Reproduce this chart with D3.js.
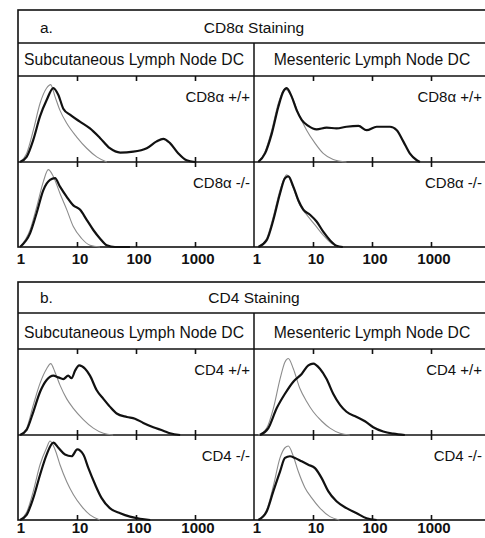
<!DOCTYPE html>
<html lang="en">
<head>
<meta charset="UTF-8">
<script src="https://d3js.org/d3.v7.min.js"></script>
<title>CD8α / CD4 staining</title>
<style>
  body { margin: 0; background: #fff; }
  svg text { font-family: "Liberation Sans", Arial, sans-serif; fill: #111; }
</style>
</head>
<body>
<svg id="chart" width="485" height="538"></svg>
<script>
// histogram data: [fluorescence, relative count]
// a. CD8α staining
const cd8SubWT = [[1.08,0],[1.4,6],[1.82,26],[2.36,53],[3.06,72],[3.97,86],[4.83,78],[5.86,62],[7.6,55],[11.2,47],[16.6,39],[24.5,28],[36,16],[54,11],[90,12],[152,16],[224,24],[290,27],[377,22],[522,10],[722,2],[1000,0]];
const cd8SubWTctl = [[1.08,0],[1.4,10],[1.82,37],[2.36,68],[3.06,86],[3.58,90],[4.24,76],[5.15,60],[6.7,45],[9.9,29],[14.6,16],[21.6,6],[32,0]];
const cd8SubKO = [[1.08,0],[1.6,16],[2.07,40],[2.69,67],[3.49,79],[4.24,81],[5.15,71],[6.7,59],[8.66,49],[11.2,44],[14.6,32],[18.9,20],[24.5,10],[32,2],[44,0],[79,0]];
const cd8SubKOctl = [[1.08,0],[1.6,20],[2.07,47],[2.69,77],[3.26,91],[3.97,83],[5.15,63],[6.7,44],[8.66,24],[12,10],[16.6,2],[24.5,0]];
const cd8MesWT = [[1.18,0],[1.54,10],[2.0,33],[2.58,64],[3.14,82],[3.58,86],[4.35,76],[5.3,60],[6.43,49],[8.33,42],[11.5,38],[17,40],[25,39],[37,41],[59,42],[81,37],[120,41],[202,41],[263,37],[339,24],[437,10],[575,2],[650,0]];
const cd8MesWTctl = [[1.18,0],[1.54,12],[2.0,37],[2.58,68],[3.35,85],[4.35,76],[5.64,57],[7.8,37],[10.8,22],[14.9,10],[22,3],[37,0]];
const cd8MesKO = [[1.18,0],[1.64,8],[2.13,32],[2.76,63],[3.35,81],[3.82,83],[4.64,71],[5.64,55],[6.85,44],[8.9,38],[11.5,30],[14.9,18],[19.4,8],[25,1.5],[32,0]];
const cd8MesKOctl = [[1.18,0],[1.64,10],[2.13,36],[2.76,67],[3.58,85],[4.64,69],[6.0,49],[7.8,38],[10.8,26],[14.9,14],[20.8,4],[28,0]];

// b. CD4 staining
const cd4SubWT = [[1.08,0],[1.4,6],[1.82,27],[2.36,50],[3.06,64],[3.97,69],[4.83,67],[5.86,65],[7.1,69],[8.1,66],[9.3,75],[10.9,81],[13.7,77],[16.6,69],[21.6,52],[28,42],[36,33],[47,25],[70,21],[96,19],[133,14],[196,9],[290,5],[377,2],[560,0]];
const cd4SubWTctl = [[1.08,0],[1.4,8],[1.82,35],[2.36,60],[3.06,77],[3.58,83],[4.24,73],[5.15,58],[6.7,42],[8.66,31],[12.8,18],[18.9,8],[28,2],[41,0]];
const cd4SubKO = [[1.08,0],[1.4,6],[1.82,26],[2.36,53],[3.06,77],[3.97,91],[4.83,85],[6.26,77],[8.1,75],[10.1,83],[12.8,77],[15.6,61],[20.2,42],[26,26],[36,14],[54,8],[79,4],[117,1.5],[174,0]];
const cd4SubKOctl = [[1.08,0],[1.4,9],[1.82,34],[2.36,65],[3.06,85],[3.49,93],[4.24,83],[5.15,65],[6.7,45],[8.66,30],[12,16],[16.6,6],[24.5,0]];
const cd4MesWT = [[1.26,0],[1.75,8],[2.42,31],[3.35,48],[4.64,62],[6.43,71],[8.34,81],[10.1,83],[13.1,77],[17,65],[22,48],[28.7,35],[37,27],[55,21],[76,16],[105,9],[155,4],[230,1.5],[360,0]];
const cd4MesWTctl = [[1.18,0],[1.64,8],[2.13,31],[2.76,65],[3.35,85],[3.82,89],[4.64,77],[6.0,54],[7.8,39],[10.1,27],[14.1,16],[19.4,8],[28.7,2],[42,0]];
const cd4MesKO = [[1.18,0],[1.64,10],[2.13,34],[2.76,57],[3.35,73],[4.07,75],[4.95,73],[6.43,69],[8.34,65],[10.8,61],[14.1,49],[18.1,34],[25,22],[37,14],[55,8],[81,2],[120,0]];
const cd4MesKOctl = [[1.18,0],[1.64,12],[2.13,40],[2.76,73],[3.35,85],[3.82,87],[4.64,75],[5.64,57],[7.3,38],[9.5,26],[13.1,14],[19.4,4],[28,0]];

const columnTitles = ["Subcutaneous Lymph Node DC", "Mesenteric Lymph Node DC"];
const tickValues = [1, 10, 100, 1000];

// layout of the two blocks
const columns = [{ x0: 18, x1: 254, labelEnd: 250 }, { x0: 254, x1: 490, labelEnd: 482 }];
const panels = [
  { letter: "a.", title: "CD8α Staining", top: 10, headBottom: 43, subBottom: 76, mid: 162, bottom: 247, labelPad: 6,
    rows: [
      { label: "CD8α +/+", sets: [[cd8SubWTctl, cd8SubWT], [cd8MesWTctl, cd8MesWT]] },
      { label: "CD8α -/-", sets: [[cd8SubKOctl, cd8SubKO], [cd8MesKOctl, cd8MesKO]] }
    ] },
  { letter: "b.", title: "CD4 Staining", top: 282, headBottom: 313, subBottom: 349, mid: 435, bottom: 520, labelPad: 2.5,
    rows: [
      { label: "CD4 +/+", sets: [[cd4SubWTctl, cd4SubWT], [cd4MesWTctl, cd4MesWT]] },
      { label: "CD4 -/-", sets: [[cd4SubKOctl, cd4SubKO], [cd4MesKOctl, cd4MesKO]] }
    ] }
];

const svg = d3.select("#chart");

panels.forEach(p => {
  const g = svg.append("g");
  const left = columns[0].x0, right = columns[1].x1;

  // frame + horizontal rules
  g.append("rect")
    .attr("x", left).attr("y", p.top)
    .attr("width", right - left).attr("height", p.bottom - p.top)
    .attr("fill", "none").attr("stroke", "#111").attr("stroke-width", 1.6);
  [p.headBottom, p.subBottom, p.mid].forEach(yy => {
    g.append("line").attr("x1", left).attr("x2", right)
      .attr("y1", yy).attr("y2", yy)
      .attr("stroke", "#111").attr("stroke-width", 1.5);
  });
  // column divider
  g.append("line").attr("x1", columns[1].x0).attr("x2", columns[1].x0)
    .attr("y1", p.headBottom).attr("y2", p.bottom)
    .attr("stroke", "#111").attr("stroke-width", 1.5);

  // header texts
  g.append("text").attr("x", 40).attr("y", p.headBottom - 10)
    .attr("font-size", 15.5).text(p.letter);
  g.append("text").attr("x", columns[1].x0).attr("y", p.headBottom - 10)
    .attr("text-anchor", "middle").attr("font-size", 15.5).text(p.title);

  const rowBounds = [[p.subBottom, p.mid], [p.mid, p.bottom]];

  columns.forEach((c, ci) => {
    g.append("text").attr("x", (c.x0 + c.x1) / 2 - (ci === 0 ? 2 : 0))
      .attr("y", p.subBottom - 11)
      .attr("text-anchor", "middle").attr("font-size", 15.7)
      .text(columnTitles[ci]);

    const x = d3.scaleLog().domain([1, 10000]).range([c.x0, c.x1]);

    // tick marks: top of upper plot, middle rule (both sides), bottom
    const inner = [10, 100, 1000];
    g.append("g").attr("transform", `translate(0,${p.subBottom})`)
      .call(d3.axisBottom(x).tickValues(inner).tickSize(5).tickFormat(""))
      .call(a => a.select(".domain").remove());
    g.append("g").attr("transform", `translate(0,${p.mid})`)
      .call(d3.axisBottom(x).tickValues(inner).tickSize(5).tickFormat(""))
      .call(a => a.select(".domain").remove());
    g.append("g").attr("transform", `translate(0,${p.mid})`)
      .call(d3.axisTop(x).tickValues(inner).tickSize(5).tickFormat(""))
      .call(a => a.select(".domain").remove());
    g.append("g").attr("transform", `translate(0,${p.bottom})`)
      .call(d3.axisTop(x).tickValues(inner).tickSize(5).tickFormat(""))
      .call(a => a.select(".domain").remove());
    g.selectAll(".tick line").attr("stroke", "#111").attr("stroke-width", 1.6);

    // tick labels
    const labels = g.append("g").attr("transform", `translate(2.5,${p.bottom})`)
      .call(d3.axisBottom(x).tickValues(tickValues).tickSize(0).tickPadding(p.labelPad)
        .tickFormat(d3.format("d")));
    labels.select(".domain").remove();
    labels.selectAll("text")
      .attr("font-family", "'Liberation Sans', Arial, sans-serif")
      .attr("font-size", 15).attr("font-weight", "bold").attr("fill", "#111");

    p.rows.forEach((r, ri) => {
      const [yTop, yBot] = rowBounds[ri];
      const y = d3.scaleLinear().domain([0, 100]).range([yBot, yTop]);
      const line = d3.line().x(d => x(d[0])).y(d => y(d[1])).curve(d3.curveMonotoneX);
      const [ctl, stain] = r.sets[ci];

      g.append("path").datum(ctl).attr("d", line)
        .attr("fill", "none").attr("stroke", "#8c8c8c").attr("stroke-width", 1.1);
      g.append("path").datum(stain).attr("d", line)
        .attr("fill", "none").attr("stroke", "#111").attr("stroke-width", 2.2)
        .attr("stroke-linejoin", "round");

      g.append("text").attr("x", c.labelEnd).attr("y", yTop + 26)
        .attr("text-anchor", "end").attr("font-size", 15).text(r.label);
    });
  });
});
</script>
</body>
</html>
